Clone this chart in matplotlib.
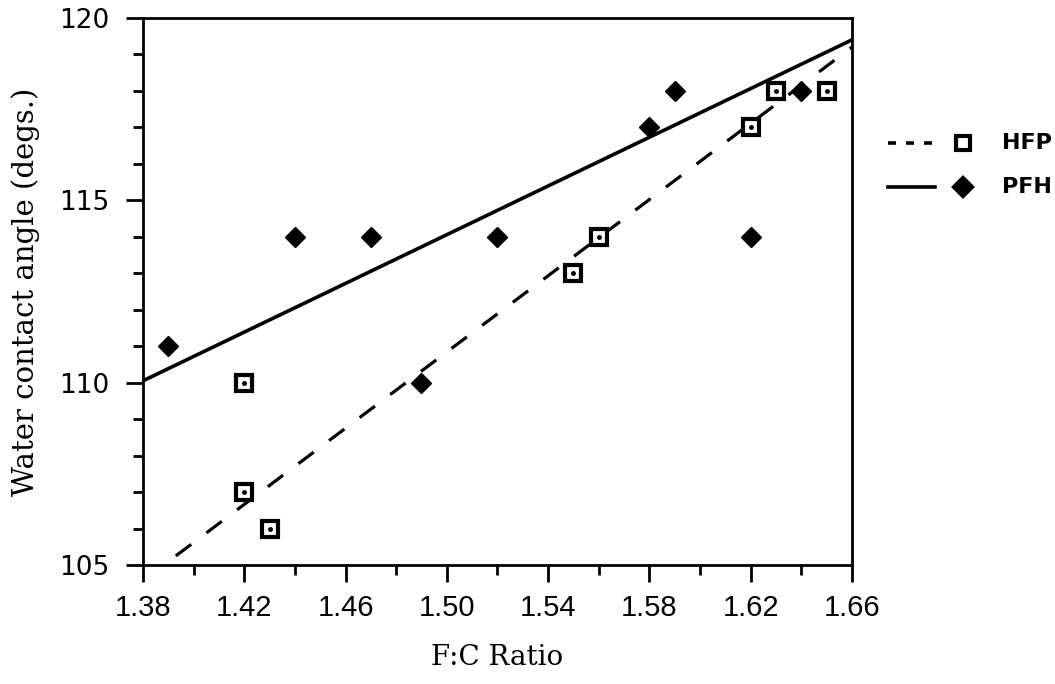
#!/usr/bin/env python3
"""Water contact angle vs F:C ratio for HFP and PFH films."""
import numpy as np
import matplotlib
matplotlib.use("Agg")
import matplotlib.pyplot as plt
from matplotlib.ticker import MultipleLocator
from matplotlib.lines import Line2D

# measured points
HFP_X = [1.42, 1.42, 1.43, 1.55, 1.56, 1.62, 1.63, 1.65]
HFP_Y = [110, 107, 106, 113, 114, 117, 118, 118]
PFH_X = [1.39, 1.44, 1.47, 1.49, 1.52, 1.58, 1.59, 1.62, 1.64]
PFH_Y = [111, 114, 114, 110, 114, 117, 118, 114, 118]

# trend lines as drawn on the figure
HFP_FIT_X = [1.393, 1.66]
HFP_FIT_Y = [105.25, 119.2]
PFH_FIT_X = [1.38, 1.66]
PFH_FIT_Y = [110.05, 119.4]

X_TICKS = [1.38, 1.42, 1.46, 1.50, 1.54, 1.58, 1.62, 1.66]
Y_TICKS = [105, 110, 115, 120]
SERIES = ["HFP", "PFH"]

fig = plt.figure(figsize=(10.55, 6.84), dpi=100)
ax = fig.add_axes([0.1355, 0.174, 0.672, 0.7997])

ax.plot(HFP_FIT_X, HFP_FIT_Y, color="black", lw=2.3, ls=(0, (6, 6)))
ax.plot(PFH_FIT_X, PFH_FIT_Y, color="black", lw=2.6)

ax.plot(HFP_X, HFP_Y, ls="none", marker="s", ms=11, mfc="white", mec="black", mew=3)
ax.plot(HFP_X, HFP_Y, ls="none", marker="o", ms=2.5, color="black")
ax.plot(PFH_X, PFH_Y, ls="none", marker="D", ms=10, color="black")

ax.set_xlim(1.38, 1.66)
ax.set_ylim(105, 120)
ax.set_xticks(X_TICKS)
ax.set_xticklabels([f"{t:.2f}" for t in X_TICKS], family="Liberation Sans", fontsize=21)
ax.xaxis.set_minor_locator(MultipleLocator(0.02))
ax.set_yticks(Y_TICKS)
ax.set_yticklabels([str(t) for t in Y_TICKS], fontsize=19)
ax.yaxis.set_minor_locator(MultipleLocator(1))

for s in ax.spines.values():
    s.set_linewidth(2)
ax.tick_params(which="major", direction="out", length=12, width=2)
ax.tick_params(axis="y", which="major", pad=12)
ax.tick_params(axis="x", which="major", pad=9)
ax.tick_params(which="minor", direction="out", length=7, width=2)

ax.set_xlabel("F:C Ratio", family="DejaVu Serif", fontsize=20, labelpad=16)
ax.set_ylabel("Water contact angle (degs.)", family="DejaVu Serif", fontsize=21, labelpad=14)

# legend drawn by hand: line sample, gap, marker, label
rows = [
    dict(ls=(0, (2.2, 2.8)), marker="s", mfc="white", ms=10, y=0.791),
    dict(ls="-", marker="D", mfc="black", ms=9, y=0.727),
]
for name, r in zip(SERIES, rows):
    fig.add_artist(Line2D([0.842, 0.886], [r["y"], r["y"]], transform=fig.transFigure,
                          color="black", lw=2.6, ls=r["ls"]))
    fig.add_artist(Line2D([0.913], [r["y"]], transform=fig.transFigure, ls="none",
                          marker=r["marker"], ms=r["ms"], mfc=r["mfc"], mec="black", mew=3))
    fig.text(0.950, r["y"], name, fontsize=16, fontweight="bold", va="center", ha="left")

fig.savefig("out.png", dpi=100)
